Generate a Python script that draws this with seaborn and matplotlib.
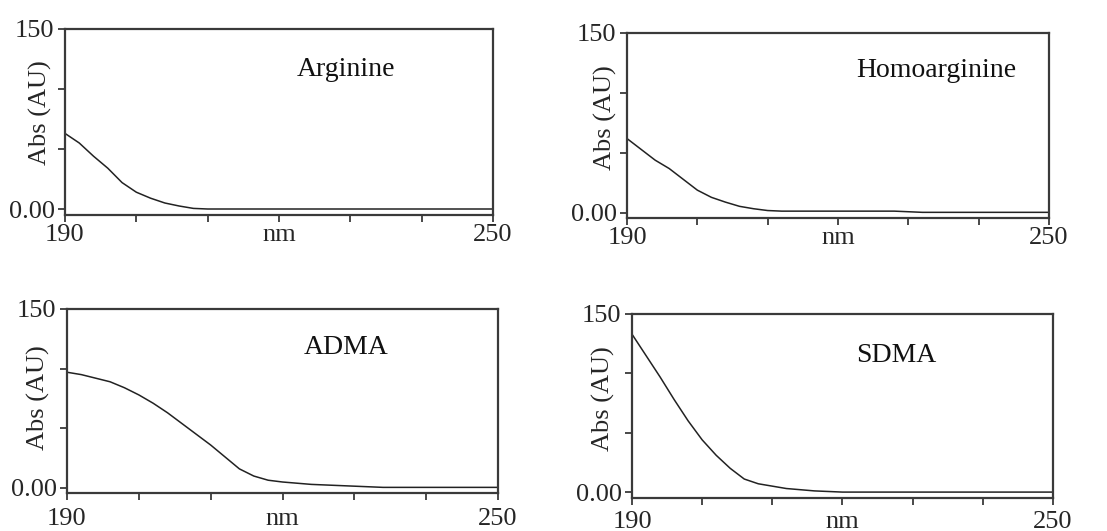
import numpy as np
import pandas as pd
import matplotlib
matplotlib.use("Agg")
import matplotlib.pyplot as plt
import seaborn as sns

# ---- data ----
wavelength = list(range(190, 251, 2))  # nm

arginine = [63, 55, 44, 34, 22, 14, 9, 5, 2.5, 0.5, 0] + [0] * 20
homoarginine = [62, 53, 44, 37, 28, 19, 13, 9, 5.5, 3.5, 2, 1.5, 1.5, 1.5, 1.5,
                1.5, 1.5, 1.5, 1.5, 1.5, 1] + [0.5] * 10
adma = [97, 95, 92, 89, 84, 78, 71, 63, 54, 45, 36, 26, 16, 10, 6.5, 5, 4, 3,
        2.5, 2, 1.5, 1, 0.5] + [0.5] * 8
sdma = [133, 115, 97, 78, 60, 44, 31, 20, 11, 7, 5, 3, 2, 1, 0.5] + [0] * 16

names = ["Arginine", "Homoarginine", "ADMA", "SDMA"]
series = [arginine, homoarginine, adma, sdma]

x_ticks = [190, 200, 210, 220, 230, 240, 250]
x_ticklabels = ["190", "", "", "nm", "", "", "250"]
y_ticks = [0, 50, 100, 150]
y_ticklabels = ["0.00", "", "", "150"]
y_label = "Abs (AU)"

# ---- layout ----
sns.set_style("ticks")
plt.rcParams["font.family"] = ["Liberation Serif", "DejaVu Serif"]

fig = plt.figure(figsize=(11.07, 5.31), dpi=100)

positions = [
    [0.0587, 0.5951, 0.3867, 0.3503],
    [0.5664, 0.5895, 0.3812, 0.3484],
    [0.0605, 0.0716, 0.3894, 0.3465],
    [0.5709, 0.0621, 0.3803, 0.3466],
]
ybottoms = [-5, -4.2, -4.2, -5]
label_coords = [(-0.030, 0.55), (-0.024, 0.54), (-0.039, 0.52), (-0.040, 0.54)]
title_pos = [(229.4, 116), (234, 119), (228.9, 118), (227.7, 115)]
x_pads = [1.5, 1.5, 5.5, 4.0]

edge = "#3a3a3a"
for i, (name, vals) in enumerate(zip(names, series)):
    ax = fig.add_axes(positions[i])
    df = pd.DataFrame({"nm": wavelength, "abs": vals})
    sns.lineplot(data=df, x="nm", y="abs", ax=ax, color="#222222", linewidth=1.1)
    ax.set_xlim(190, 250)
    ax.set_ylim(ybottoms[i], 150)
    ax.set_xticks(x_ticks)
    ax.set_xticklabels(x_ticklabels)
    ax.set_yticks(y_ticks)
    ax.set_yticklabels(y_ticklabels)
    ax.tick_params(axis="both", labelsize=19, length=5, width=1.3, color=edge,
                   direction="out")
    ax.tick_params(axis="x", pad=x_pads[i])
    ax.tick_params(axis="y", pad=2.5)
    for s in ax.spines.values():
        s.set_visible(True)
        s.set_color(edge)
        s.set_linewidth(1.6)
    ax.set_xlabel("")
    ax.set_ylabel(y_label, fontsize=19)
    ax.yaxis.set_label_coords(*label_coords[i])
    ax.text(title_pos[i][0], title_pos[i][1], name, fontsize=20,
            ha="center", va="center", color="#111111")

fig.savefig("out.png", dpi=100)
